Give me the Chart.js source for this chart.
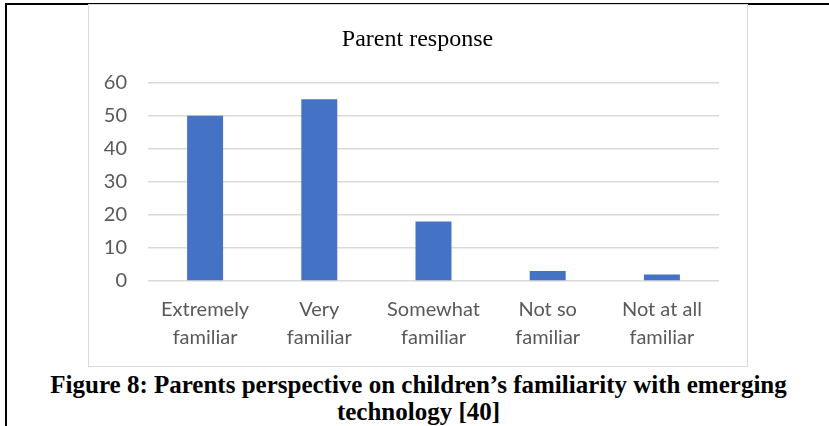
<!DOCTYPE html>
<html>
<head>
<meta charset="utf-8">
<script src="https://cdn.jsdelivr.net/npm/chart.js@4.4.0/dist/chart.umd.min.js"></script>
<style>
  html, body { margin: 0; padding: 0; background: #fff; }
  #page { position: relative; width: 829px; height: 426px; overflow: hidden; }
  #frame { position: absolute; left: 5px; top: 3px; right: -10px; bottom: -10px;
           border-left: 2px solid #000; border-top: 2px solid #000; }
  #box { position: absolute; left: 88px; top: 4px; width: 658px; height: 361px;
         border: 1.5px solid #d9d9d9; background: #fff; }
  #wrap { position: absolute; left: 89px; top: 5px; width: 657px; height: 360px; }
  #caption { position: absolute; left: 0; top: 371px; width: 837px; text-align: center;
             font-family: "Liberation Serif", "Times New Roman", serif; font-weight: bold;
             font-size: 25px; line-height: 27px; color: #000; white-space: nowrap; }
</style>
</head>
<body>
<div id="page">
  <div id="frame"></div>
  <div id="box"></div>
  <div id="wrap"><canvas id="respuestaChart"></canvas></div>
  <div id="caption">Figure 8: Parents perspective on children’s familiarity with emerging<br>technology [40]</div>
</div>
<script>
// Datos del gráfico
const categorias = [
    ['Extremely', 'familiar'],
    ['Very', 'familiar'],
    ['Somewhat', 'familiar'],
    ['Not so', 'familiar'],
    ['Not at all', 'familiar']
];
const respuestas = [50, 55, 18, 3, 2];
const ticksY = [0, 10, 20, 30, 40, 50, 60];

const ctx = document.getElementById('respuestaChart').getContext('2d');

new Chart(ctx, {
    type: 'bar',
    data: {
        labels: categorias,
        datasets: [{
            label: 'Parent response',
            data: respuestas,
            backgroundColor: '#4472c4',
            barPercentage: 0.315,
            categoryPercentage: 1
        }]
    },
    options: {
        responsive: true,
        maintainAspectRatio: false,
        animation: false,
        layout: { padding: 0 },
        plugins: {
            legend: { display: false },
            tooltip: { enabled: false },
            title: {
                display: true,
                text: 'Parent response',
                color: '#000',
                font: { family: '"Liberation Serif", "Times New Roman", serif', size: 24, weight: 'normal' },
                padding: { top: 20, bottom: 29 }
            }
        },
        scales: {
            x: {
                grid: { display: false },
                border: { display: false },
                ticks: {
                    color: '#595959',
                    font: { family: 'Lato, "Open Sans", sans-serif', size: 20, lineHeight: 1.4 },
                    padding: 7,
                    maxRotation: 0,
                    autoSkip: false
                },
                afterFit: (scale) => { scale.height = 84; }
            },
            y: {
                min: 0,
                max: 60,
                afterBuildTicks: (scale) => { scale.ticks = ticksY.map(v => ({ value: v })); },
                grid: { color: '#d9d9d9', lineWidth: 1.5, drawTicks: false },
                border: { display: false },
                ticks: {
                    color: '#595959',
                    font: { family: 'Lato, "Open Sans", sans-serif', size: 20 },
                    padding: 21
                },
                afterFit: (scale) => { scale.width = 59; }
            },
            // eje vacío a la derecha, solo reserva el margen
            margen: {
                position: 'right',
                grid: { display: false },
                border: { display: false },
                ticks: { display: false },
                afterFit: (scale) => { scale.width = 27; }
            }
        }
    }
});
</script>
</body>
</html>
